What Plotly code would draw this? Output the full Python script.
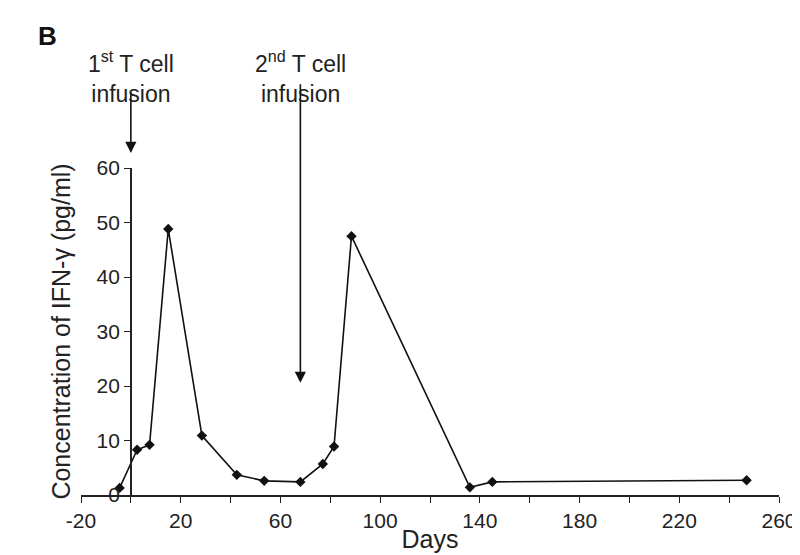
import plotly.graph_objects as go

days = [-4.5, 2.5, 7.5, 15, 28.5, 42.5, 53.5, 68, 77, 81.5, 88.5, 136, 145, 247]
ifn = [1.3, 8.3, 9.2, 48.8, 10.9, 3.7, 2.6, 2.4, 5.7, 8.9, 47.5, 1.4, 2.4, 2.7]
x_ticks = list(range(-20, 261, 20))
x_labels = [str(v) if (v + 20) % 40 == 0 else "" for v in x_ticks]
# (day, label, arrow tip in paper units, arrow length px)
infusions = [(0, "1<sup>st</sup> T cell<br>infusion", 1.046, -62), (68, "2<sup>nd</sup> T cell<br>infusion", 0.343, -300)]

font = dict(family="Liberation Sans, Arial", size=21, color="#222")

fig = go.Figure(go.Scatter(
    x=days, y=ifn, mode="lines+markers",
    line=dict(color="#111", width=1.6),
    marker=dict(symbol="diamond", size=8, color="#111"),
    cliponaxis=False,
))

for d, txt, tip, ay in infusions:
    fig.add_annotation(x=d, y=tip, xref="x", yref="paper", ax=0, ay=ay, text="",
                       showarrow=True, arrowhead=2, arrowsize=1.4, arrowwidth=1.6, arrowcolor="#111")
    fig.add_annotation(x=d, y=1.376, xref="x", yref="paper", text=txt, showarrow=False,
                       font=dict(family="Liberation Sans, Arial", size=23, color="#222"), align="center")

fig.add_annotation(x=-0.065, y=1.455, xref="paper", yref="paper", text="<b>B</b>",
                   showarrow=False, font=dict(family="Liberation Sans, Arial", size=26, color="#111"))

fig.update_layout(
    width=800, height=555, plot_bgcolor="white", paper_bgcolor="white",
    margin=dict(l=73, r=29, t=160, b=68, autoexpand=False), showlegend=False, font=font,
    xaxis=dict(range=[-20, 260], tickvals=x_ticks, ticktext=x_labels, ticks="outside",
               ticklen=6, tickcolor="#222", showline=True, linecolor="#222", linewidth=1.5,
               showgrid=False, zeroline=False, title=dict(text="Days", standoff=0),
               tickfont=font),
    yaxis=dict(range=[0, 60], tickvals=list(range(0, 61, 10)), ticks="outside", ticklen=6,
               tickcolor="#222", showline=True, linecolor="#222", linewidth=1.5,
               showgrid=False, zeroline=False, anchor="free", position=20 / 280,
               title=dict(text="Concentration of IFN-γ (pg/ml)", standoff=18), tickfont=font),
)

fig.write_html("out.html")
